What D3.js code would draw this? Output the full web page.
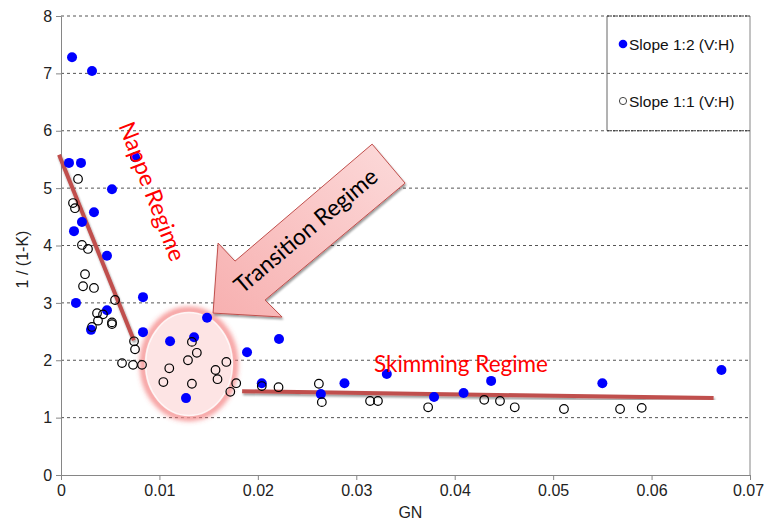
<!DOCTYPE html>
<html><head><meta charset="utf-8">
<script src="https://cdn.jsdelivr.net/npm/d3@7"></script>
<style>body{margin:0;background:#fff}svg{display:block}</style>
</head><body><svg id="c" width="764" height="522"></svg>
<script>
// Data
const slope12X = [0.00112,0.00315,0.00081,0.00203,0.00752,0.00518,0.00335,0.00213,0.00132,0.00467,0.00152,0.00833,0.00467,0.00305,0.00833,0.01108,0.01352,0.01484,0.0127,0.0189,0.02215,0.0204,0.0264,0.0288,0.0331,0.0379,0.0409,0.0437,0.0550,0.0671];
const slope12Y = [7.28,7.04,5.44,5.44,5.54,4.98,4.58,4.41,4.25,3.82,3.00,3.10,2.87,2.53,2.49,2.33,2.40,2.74,1.34,2.14,2.37,1.60,1.41,1.60,1.76,1.36,1.43,1.64,1.60,1.83];
const slope11X = [0.00173,0.00122,0.00142,0.00213,0.00274,0.00244,0.00224,0.00335,0.00549,0.00366,0.00427,0.00376,0.00518,0.00518,0.00315,0.00742,0.00752,0.0062,0.00732,0.00823,0.0133,0.0138,0.0129,0.0110,0.0104,0.0133,0.0157,0.0159,0.0168,0.0178,0.0172,0.0204,0.0221,0.0262,0.0265,0.0314,0.0322,0.0373,0.0430,0.0446,0.0461,0.0511,0.0568,0.0590];
const slope11Y = [5.16,4.74,4.65,4.01,3.94,3.50,3.29,3.26,3.05,2.82,2.80,2.69,2.66,2.63,2.58,2.33,2.19,1.95,1.92,1.92,2.32,2.13,2.00,1.86,1.62,1.59,1.83,1.67,1.97,1.60,1.45,1.55,1.53,1.59,1.27,1.29,1.29,1.18,1.31,1.29,1.18,1.15,1.15,1.17];
const nappeLineX = [-0.0002, 0.0074];
const nappeLineY = [5.58, 2.35];
const skimLineX = [0.0184, 0.0663];
const skimLineY = [1.46, 1.34];
const xTicks = [0,0.01,0.02,0.03,0.04,0.05,0.06,0.07];
const xTickLabels = ["0","0.01","0.02","0.03","0.04","0.05","0.06","0.07"];
const yTicks = [0,1,2,3,4,5,6,7,8];
const seriesNames = ["Slope 1:2 (V:H)","Slope 1:1 (V:H)"];
// annotation shapes (data coordinates)
const arrowX = [0.01545,0.01596,0.01768,0.03161,0.03496,0.02073,0.02246];
const arrowY = [2.822,4.042,3.728,5.767,5.087,3.049,2.753];

const svg = d3.select("#c");
const L=61,R=750,T=16,B=475;
const x = d3.scaleLinear().domain([0,0.07]).range([L,R]);
const y = d3.scaleLinear().domain([0,8]).range([B,T]);
const font = "'Liberation Sans', Arial, sans-serif";
const afont = "Lato, 'Open Sans', sans-serif";

const defs = svg.append("defs");
const blur = defs.append("filter").attr("id","glow").attr("x","-30%").attr("y","-30%").attr("width","160%").attr("height","160%");
blur.append("feGaussianBlur").attr("stdDeviation",2.5);
const sh = defs.append("filter").attr("id","shadow").attr("x","-20%").attr("y","-20%").attr("width","140%").attr("height","140%");
sh.append("feGaussianBlur").attr("in","SourceAlpha").attr("stdDeviation",1.2).attr("result","b");
sh.append("feOffset").attr("dx",1).attr("dy",1.5).attr("result","o");
sh.append("feComponentTransfer").append("feFuncA").attr("type","linear").attr("slope",0.4);
const m = sh.append("feMerge"); m.append("feMergeNode"); m.append("feMergeNode").attr("in","SourceGraphic");
const grad = defs.append("linearGradient").attr("id","ag").attr("x1","1").attr("y1","0").attr("x2","0").attr("y2","1");
grad.append("stop").attr("offset","0").attr("stop-color","#fcdada");
grad.append("stop").attr("offset","1").attr("stop-color","#f7b0b0");

// grid
svg.append("g").selectAll("line").data(yTicks.filter(d=>d>0)).join("line")
  .attr("x1",L).attr("x2",R).attr("y1",d=>y(d)).attr("y2",d=>y(d))
  .attr("stroke","#555").attr("stroke-width",1).attr("stroke-dasharray","3,3");

// axes
const xa = svg.append("g").attr("transform",`translate(0,${B})`)
  .call(d3.axisBottom(x).tickValues(xTicks).tickFormat((d,i)=>xTickLabels[i]).tickSize(5).tickSizeOuter(0));
const ya = svg.append("g").attr("transform",`translate(${L},0)`)
  .call(d3.axisLeft(y).tickValues(yTicks).tickFormat(d3.format("d")).tickSize(5).tickSizeOuter(0));
[xa,ya].forEach(a=>{a.selectAll("path,line").attr("stroke","#868686");
  a.selectAll("text").attr("font-family",font).attr("font-size",16).attr("fill","#222");});
xa.selectAll("text").attr("dy","0.8em").attr("dx",(d,i)=>i===xTicks.length-1?-2:0);
ya.selectAll("text").attr("dx","-0.05em");
svg.append("line").attr("x1",R).attr("x2",R).attr("y1",T).attr("y2",B).attr("stroke","#868686");

// ellipse
const ex=0.0130, ey=1.934;
const rx = x(ex+0.00467)-x(ex), ry = y(ey)-y(ey+0.94);
svg.append("ellipse").attr("cx",x(ex)).attr("cy",y(ey)).attr("rx",rx).attr("ry",ry)
  .attr("fill","#fde2e2").attr("stroke","#f04a4a").attr("stroke-width",6).attr("stroke-opacity",0.6).attr("filter","url(#glow)");
svg.append("ellipse").attr("cx",x(ex)).attr("cy",y(ey)).attr("rx",rx-2.5).attr("ry",ry-2.5)
  .attr("fill","#fde4e4").attr("stroke","#fff").attr("stroke-width",1.5).attr("stroke-opacity",0.8);

// trend lines
const ln = d3.line().x(d=>x(d[0])).y(d=>y(d[1]));
[[nappeLineX,nappeLineY],[skimLineX,skimLineY]].forEach(([xs,ys])=>{
  svg.append("path").attr("d",ln(xs.map((v,i)=>[v,ys[i]]))).attr("stroke","#c0504d").attr("stroke-width",4)
   .attr("fill","none").attr("filter","url(#shadow)");
});

// points
svg.append("g").selectAll("circle").data(slope12X.map((v,i)=>[v,slope12Y[i]])).join("circle")
  .attr("cx",d=>x(d[0])).attr("cy",d=>y(d[1])).attr("r",5).attr("fill","#0000ff");
svg.append("g").selectAll("circle").data(slope11X.map((v,i)=>[v,slope11Y[i]])).join("circle")
  .attr("cx",d=>x(d[0])).attr("cy",d=>y(d[1])).attr("r",4.3).attr("fill","none").attr("stroke","#000").attr("stroke-width",1.2);

// arrow
svg.append("path").attr("d","M"+arrowX.map((v,i)=>x(v)+","+y(arrowY[i])).join("L")+"Z")
  .attr("fill","url(#ag)").attr("stroke","#c0504d").attr("stroke-width",1).attr("filter","url(#shadow)");
svg.append("text").attr("transform",`translate(${x(0.0248)},${y(4.27)}) rotate(-40)`)
  .attr("text-anchor","middle").attr("dominant-baseline","central").attr("font-family",afont)
  .attr("font-size",23).attr("fill","#000").text("Transition Regime");

// labels
svg.append("text").attr("transform",`translate(${x(0.00935)},${y(4.95)}) rotate(69)`)
  .attr("text-anchor","middle").attr("dominant-baseline","central").attr("font-family",afont)
  .attr("font-size",23).attr("fill","#ff0000").text("Nappe Regime");
svg.append("text").attr("x",x(0.0318)).attr("y",y(1.80))
  .attr("font-family",afont).attr("font-size",22.5).attr("fill","#ff0000").text("Skimming Regime");

// axis titles
svg.append("text").attr("x",x(0.0355)).attr("y",518).attr("text-anchor","middle").attr("font-family",font).attr("font-size",16).attr("fill","#222").text("GN");
svg.append("text").attr("transform",`translate(28,${(T+B)/2+14}) rotate(-90)`).attr("text-anchor","middle").attr("font-family",font).attr("font-size",16).attr("fill","#222").text("1 / (1-K)");

// legend
const lx=607, ly1=T, ly2=y(6);
svg.append("line").attr("x1",lx).attr("x2",lx).attr("y1",ly1).attr("y2",ly2).attr("stroke","#666");
[ly1,ly2].forEach(yy=>svg.append("line").attr("x1",lx).attr("x2",R).attr("y1",yy).attr("y2",yy).attr("stroke","#333").attr("stroke-dasharray","2,1"));
const lg = svg.append("g");
lg.append("circle").attr("cx",623).attr("cy",44).attr("r",4.3).attr("fill","#0000ff");
lg.append("circle").attr("cx",623).attr("cy",101).attr("r",3.6).attr("fill","none").attr("stroke","#444").attr("stroke-width",1);
seriesNames.forEach((s,i)=>lg.append("text").attr("x",629).attr("y",[44,101][i]).attr("dominant-baseline","central")
  .attr("font-family",font).attr("font-size",15.5).attr("fill","#111").text(s));
</script></body></html>
